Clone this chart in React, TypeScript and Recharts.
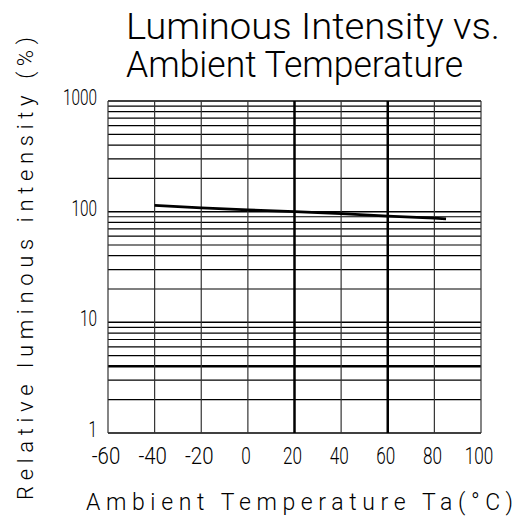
import React from 'react';
import { LineChart, Line, XAxis, YAxis, ReferenceLine } from 'recharts';

const temps = [-40, -20, 0, 20, 40, 60, 80, 85];
const intensity = [114, 108, 104, 100, 96, 91, 87.5, 86];

const xTicks = [-60, -40, -20, 0, 20, 40, 60, 80, 100];
const yTicks = [1, 10, 100, 1000];
const yMinor = [2, 3, 4, 5, 6, 7, 8, 9, 20, 30, 40, 50, 60, 70, 80, 90, 200, 300, 400, 500, 600, 700, 800, 900];
const thickX = [20, 60];
const thickY = [4];

const data = temps.map((t, i) => ({ temp: t, value: intensity[i] }));

const FONT = "Roboto, 'DejaVu Sans', sans-serif";

const YTick = (props: any) => {
  const { x, y, payload } = props;
  const s = String(payload.value);
  return (
    <text x={x - 11} y={y + 4} textAnchor="end" fontFamily={FONT} fontWeight={300} fontSize={22} fill="#000"
      textLength={s.length * 8.5} lengthAdjust="spacingAndGlyphs">
      {s}
    </text>
  );
};

const XTick = (props: any) => {
  const { x, y, payload } = props;
  const s = String(payload.value);
  const w = s.length * 9.5;
  return (
    <text x={x - 2 - w / 2} y={y + 31} fontFamily={FONT} fontWeight={300} fontSize={23} fill="#000"
      textLength={w} lengthAdjust="spacingAndGlyphs">
      {s}
    </text>
  );
};

export default function App() {
  return (
    <div style={{ position: 'absolute', left: 0, top: 0, width: 515, height: 522, background: '#fff' }}>
      <LineChart width={515} height={522} data={data} margin={{ top: 101, right: 34, bottom: 29, left: 48 }}>
        <XAxis type="number" dataKey="temp" domain={[-60, 100]} ticks={xTicks} tick={<XTick />}
          axisLine={false} tickLine={false} tickSize={0} tickMargin={0} height={60} />
        <YAxis type="number" scale="log" domain={[1, 1000]} ticks={yTicks} tick={<YTick />} allowDataOverflow
          axisLine={false} tickLine={false} tickSize={0} tickMargin={0} width={60} />
        {yMinor.map((v) => (
          <ReferenceLine key={'ym' + v} y={v} stroke="#000" strokeWidth={thickY.includes(v) ? 2.5 : 1.2} />
        ))}
        {yTicks.map((v) => (
          <ReferenceLine key={'y' + v} y={v} stroke="#000" strokeWidth={1.5} />
        ))}
        {xTicks.map((v) => (
          <ReferenceLine key={'x' + v} x={v} stroke={thickX.includes(v) ? '#000' : '#333'}
            strokeWidth={thickX.includes(v) ? 2.5 : 1.2} />
        ))}
        <Line type="linear" dataKey="value" stroke="#000" strokeWidth={2.8} dot={false} isAnimationActive={false} />
      </LineChart>
      <svg width={515} height={522} style={{ position: 'absolute', left: 0, top: 0, pointerEvents: 'none' }}>
        <text x={126} y={39} fontFamily={FONT} fontWeight={300} fontSize={36} fill="#000" textLength={374} lengthAdjust="spacingAndGlyphs">
          Luminous Intensity vs.
        </text>
        <text x={126} y={77} fontFamily={FONT} fontWeight={300} fontSize={36} fill="#000" textLength={337} lengthAdjust="spacingAndGlyphs">
          Ambient Temperature
        </text>
        <text x={86} y={510} fontFamily={FONT} fontWeight={300} fontSize={23} fill="#000" textLength={427} lengthAdjust="spacing">
          Ambient Temperature Ta(°C)
        </text>
        <text transform="translate(33,500) rotate(-90)" x={0} y={0} fontFamily={FONT} fontWeight={300} fontSize={22} fill="#000"
          textLength={463} lengthAdjust="spacing">
          Relative luminous intensity (%)
        </text>
      </svg>
    </div>
  );
}
